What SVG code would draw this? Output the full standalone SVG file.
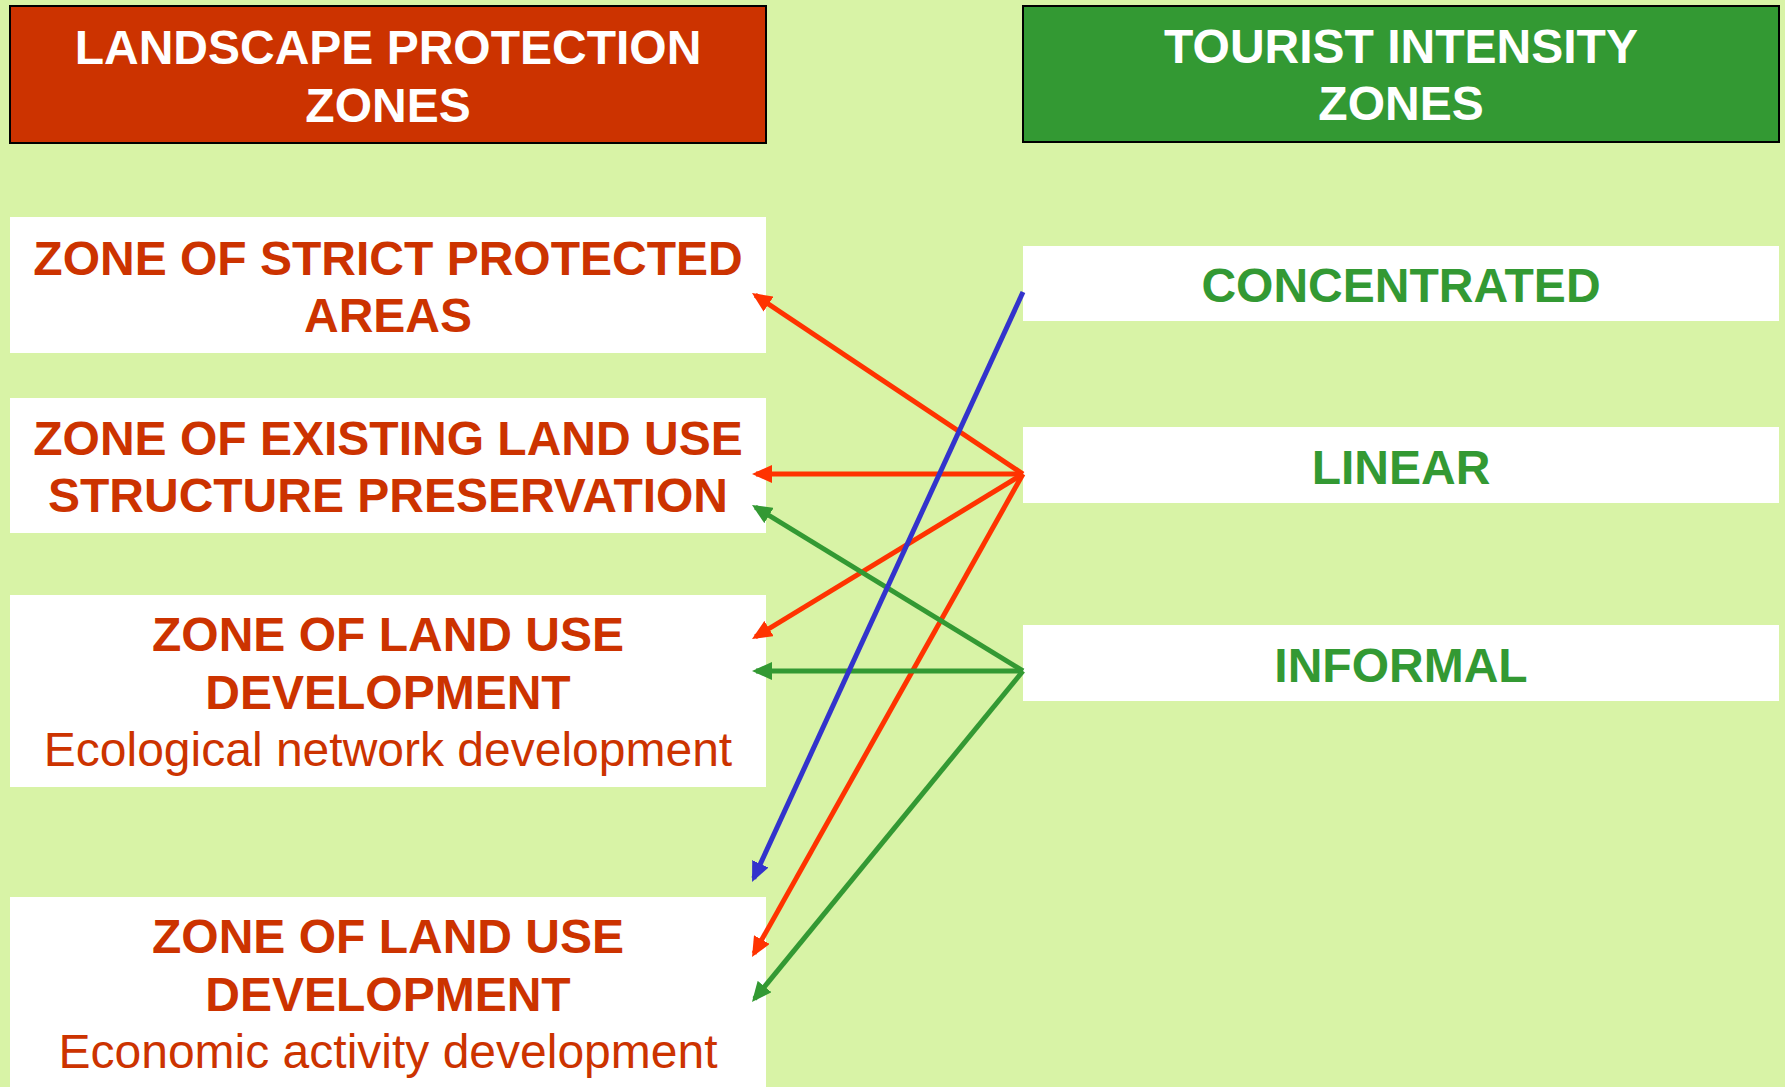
<svg xmlns="http://www.w3.org/2000/svg" width="1785" height="1087" viewBox="0 0 1785 1087">
<defs>
<style>
.bg{fill:#d8f3a6}
.box{fill:#ffffff}
.hdrL{fill:#cc3300;stroke:#000000;stroke-width:2}
.hdrR{fill:#339933;stroke:#000000;stroke-width:2}
text{font-family:"Liberation Sans",Arial,sans-serif;font-size:48px;text-anchor:middle}
.b{font-weight:bold}
.w{fill:#ffffff}
.r{fill:#cc3300}
.g{fill:#339933}
.ln{fill:none;stroke-width:5}
.red{stroke:#ff3300}
.grn{stroke:#339933}
.blu{stroke:#3333cc}
</style>
<marker id="mR" markerUnits="userSpaceOnUse" markerWidth="20" markerHeight="18" refX="16" refY="9" orient="auto"><path d="M0,0 L20,9 L0,18 z" fill="#ff3300"/></marker>
<marker id="mG" markerUnits="userSpaceOnUse" markerWidth="20" markerHeight="18" refX="16" refY="9" orient="auto"><path d="M0,0 L20,9 L0,18 z" fill="#339933"/></marker>
<marker id="mB" markerUnits="userSpaceOnUse" markerWidth="20" markerHeight="18" refX="16" refY="9" orient="auto"><path d="M0,0 L20,9 L0,18 z" fill="#3333cc"/></marker>
</defs>
<rect class="bg" x="0" y="0" width="1785" height="1087"/>

<g id="hdr-landscape">
<rect class="hdrL" x="10" y="6" width="756" height="137"/>
<text class="b w" x="388" y="64">LANDSCAPE PROTECTION</text>
<text class="b w" x="388" y="122">ZONES</text>
</g>
<g id="hdr-tourist">
<rect class="hdrR" x="1023" y="6" width="756" height="136"/>
<text class="b w" x="1401" y="63">TOURIST INTENSITY</text>
<text class="b w" x="1401" y="120">ZONES</text>
</g>

<g id="zone-strict">
<rect class="box" x="10" y="217" width="756" height="136"/>
<text class="b r" x="388" y="275">ZONE OF STRICT PROTECTED</text>
<text class="b r" x="388" y="332">AREAS</text>
</g>
<g id="zone-existing">
<rect class="box" x="10" y="398" width="756" height="135"/>
<text class="b r" x="388" y="455">ZONE OF EXISTING LAND USE</text>
<text class="b r" x="388" y="512">STRUCTURE PRESERVATION</text>
</g>
<g id="zone-ecological">
<rect class="box" x="10" y="595" width="756" height="192"/>
<text class="b r" x="388" y="651">ZONE OF LAND USE</text>
<text class="b r" x="388" y="709">DEVELOPMENT</text>
<text class="r" x="388" y="766">Ecological network development</text>
</g>
<g id="zone-economic">
<rect class="box" x="10" y="897" width="756" height="190"/>
<text class="b r" x="388" y="953">ZONE OF LAND USE</text>
<text class="b r" x="388" y="1011">DEVELOPMENT</text>
<text class="r" x="388" y="1068">Economic activity development</text>
</g>

<g id="tourist-concentrated">
<rect class="box" x="1023" y="246" width="756" height="75"/>
<text class="b g" x="1401" y="302">CONCENTRATED</text>
</g>
<g id="tourist-linear">
<rect class="box" x="1023" y="427" width="756" height="76"/>
<text class="b g" x="1401" y="484">LINEAR</text>
</g>
<g id="tourist-informal">
<rect class="box" x="1023" y="625" width="756" height="76"/>
<text class="b g" x="1401" y="682">INFORMAL</text>
</g>

<g id="connectors">
<line class="ln red" x1="1023" y1="474" x2="755.3" y2="295.2" marker-end="url(#mR)"/>
<line class="ln red" x1="1023" y1="474" x2="756" y2="474" marker-end="url(#mR)"/>
<line class="ln red" x1="1023" y1="474" x2="755.4" y2="636.9" marker-end="url(#mR)"/>
<line class="ln red" x1="1023" y1="474" x2="754" y2="953.5" marker-end="url(#mR)"/>
<line class="ln grn" x1="1023" y1="671" x2="755.4" y2="507.1" marker-end="url(#mG)"/>
<line class="ln grn" x1="1023" y1="671" x2="756" y2="671" marker-end="url(#mG)"/>
<line class="ln grn" x1="1023" y1="671" x2="754.5" y2="998.9" marker-end="url(#mG)"/>
<line class="ln blu" x1="1023" y1="292" x2="753.7" y2="878.4" marker-end="url(#mB)"/>
</g>
</svg>
